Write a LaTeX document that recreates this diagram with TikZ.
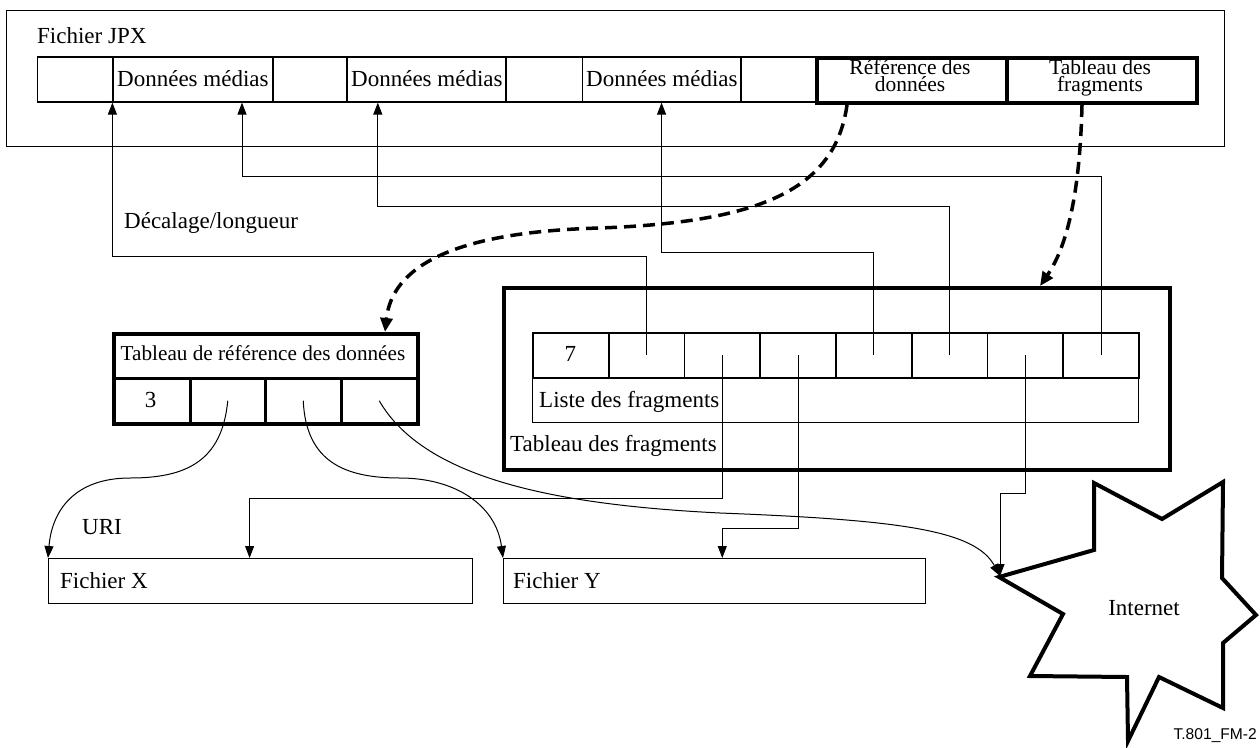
\documentclass[tikz,border=0pt]{standalone}
\usepackage{fontspec}
\setmainfont{Liberation Serif}
\newfontfamily\labelsans{Liberation Sans}
\usetikzlibrary{arrows.meta}
\begin{document}
\begin{tikzpicture}[x=1pt,y=-1pt,
  txt/.style={font=\fontsize{23}{15}\selectfont, inner sep=0pt, anchor=base west},
  ctxt/.style={font=\fontsize{23}{15}\selectfont, inner sep=0pt, anchor=base},
  twoline/.style={font=\fontsize{21.5}{17.5}\selectfont, inner sep=0pt, anchor=base, align=center},
  thinbox/.style={draw, line width=1.2pt, inner sep=0pt, anchor=north west},
  cellbox/.style={draw, line width=1.6pt, inner sep=0pt, anchor=north west, minimum height=45pt},
  boldbox/.style={draw, line width=4pt, inner sep=0pt, anchor=north west},
  link/.style={line width=1pt, -{Triangle[length=12pt,width=9pt]}},
  dashlink/.style={line width=3.5pt, dash pattern=on 12pt off 7pt, -{Triangle[length=14pt,width=12pt]}},
]
\useasboundingbox (0,0) rectangle (1260,747);

% ---- JPX file ----
\node[thinbox, minimum width=1218pt, minimum height=136pt] (jpx) at (6,10) {};
\node[txt] (jpxlabel) at (37,43) {Fichier JPX};
\node[cellbox, minimum width=75.9pt] (c1) at (36.5,56) {};
\node[cellbox, minimum width=159.6pt] (c2) at (112.4,56) {};
\node[cellbox, minimum width=74pt] (c3) at (272,56) {};
\node[cellbox, minimum width=159pt] (c4) at (346,56) {};
\node[cellbox, minimum width=76.5pt] (c5) at (505,56) {};
\node[cellbox, minimum width=158.5pt] (c6) at (581.5,56) {};
\node[cellbox, minimum width=75pt] (c7) at (740,56) {};
\node[boldbox, minimum width=190pt, minimum height=45pt] (rd) at (815,56) {};
\node[boldbox, minimum width=190pt, minimum height=45pt] (tf) at (1005,56) {};
\node[txt] (dm1) at (117,86) {Données médias};
\node[txt] (dm2) at (351,86) {Données médias};
\node[txt] (dm3) at (586,86) {Données médias};
\node[twoline] (rdlabel) at (910,91.5) {Référence des\\données};
\node[twoline] (tflabel) at (1100,91.5) {Tableau des\\fragments};

\node[txt] (dec) at (124,228) {Décalage/longueur};

% ---- data reference table ----
\node[cellbox, line width=2.5pt, minimum width=304pt] (trh) at (112,332) {};
\node[cellbox, line width=2.5pt, minimum width=77pt] (r1) at (112,377) {};
\node[cellbox, line width=2.5pt, minimum width=75pt] (r2) at (189,377) {};
\node[cellbox, line width=2.5pt, minimum width=76pt] (r3) at (264,377) {};
\node[cellbox, line width=2.5pt, minimum width=76pt] (r4) at (340,377) {};
\node[boldbox, minimum width=304pt, minimum height=90pt] (tref) at (112,332) {};
\node[ctxt, font=\fontsize{21.2}{15}\selectfont] (treflabel) at (263,360) {Tableau de référence des données};
\node[ctxt] (three) at (150.5,407) {3};

% ---- fragment table ----
\node[boldbox, minimum width=666pt, minimum height=182pt] (fbox) at (502,286) {};
\node[thinbox, minimum width=606pt, minimum height=45pt] (flist) at (532,377) {};
\node[cellbox, line width=1.8pt, minimum width=75.75pt] (f1) at (532,332) {};
\node[cellbox, line width=1.8pt, minimum width=75.75pt] (f2) at (607.75,332) {};
\node[cellbox, line width=1.8pt, minimum width=75.75pt] (f3) at (683.5,332) {};
\node[cellbox, line width=1.8pt, minimum width=75.75pt] (f4) at (759.25,332) {};
\node[cellbox, line width=1.8pt, minimum width=75.75pt] (f5) at (835,332) {};
\node[cellbox, line width=1.8pt, minimum width=75.75pt] (f6) at (910.75,332) {};
\node[cellbox, line width=1.8pt, minimum width=75.75pt] (f7) at (986.5,332) {};
\node[cellbox, line width=1.8pt, minimum width=75.75pt] (f8) at (1062.25,332) {};
\node[ctxt] (seven) at (570.4,361) {7};
\node[txt] (listlabel) at (539,407) {Liste des fragments};
\node[txt] (fboxlabel) at (510,451) {Tableau des fragments};

% ---- files ----
\node[thinbox, minimum width=424pt, minimum height=45pt] (fx) at (48,558) {};
\node[thinbox, minimum width=422pt, minimum height=45pt] (fy) at (503,558) {};
\node[txt] (fxlabel) at (60,588) {Fichier X};
\node[txt] (fylabel) at (513,588) {Fichier Y};
\node[txt] (uri) at (82,534) {URI};

% ---- Internet star ----
\draw[line width=4pt, line join=miter] (1094,483) -- (1162,519) -- (1223,482) -- (1222,578) -- (1256,615) -- (1223,643) -- (1223,708) -- (1159,677) -- (1128,741) -- (1127,677) -- (1030,676) -- (1063,614) -- (999,577) -- (1094,550) -- cycle;
\node[ctxt] (inet) at (1144,615) {Internet};
\coordinate (inettip) at (1000,576);
\node[font=\labelsans\fontsize{15.6}{16}\selectfont, anchor=base east, inner sep=0pt] (tag) at (1257,739) {T.801\_FM-2};

% ---- offset/length links ----
\draw[link] (f2.center) -- ++(0,-98.5) -| (c2.south west);
\draw[link] (f5.center) -- ++(0,-102.5) -| (c6.south);
\draw[link] (f6.center) -- ++(0,-148.5) -| ([xshift=-48.5pt]c4.south);
\draw[link] (f8.center) -- ++(0,-178.5) -| ([xshift=49pt]c2.south);
\draw[link] (f3.center) -- ++(0,143.5) -| ([xshift=-11pt]fx.north);
\draw[link] (f4.center) -- ++(0,173.5) -| (f3.center |- fy.north);
\draw[link] (f7.center) -- ++(0,138.5) -| (inettip);

% ---- URI links ----
\draw[link] (r2.center) .. controls (222,462) and (185,478) .. (130,478) .. controls (75,478) and (52,510) .. (fx.north west);
\draw[link] (r3.center) .. controls (306,462) and (345,478) .. (400,478) .. controls (455,478) and (496,505) .. (fy.north west);
\draw[link] (r4.center) .. controls (425,480) and (560,505) .. (720,513) .. controls (900,520) and (975,530) .. (inettip);

% ---- dashed links ----
\draw[dashlink] ([xshift=-65pt]rd.south) .. controls (835,190) and (760,222) .. (600,228) .. controls (450,232) and (392,268) .. ([xshift=119pt]tref.north);
\draw[dashlink] ([xshift=-20pt]tf.south) .. controls (1080,190) and (1068,245) .. ([xshift=203pt]fbox.north);
\end{tikzpicture}
\end{document}
